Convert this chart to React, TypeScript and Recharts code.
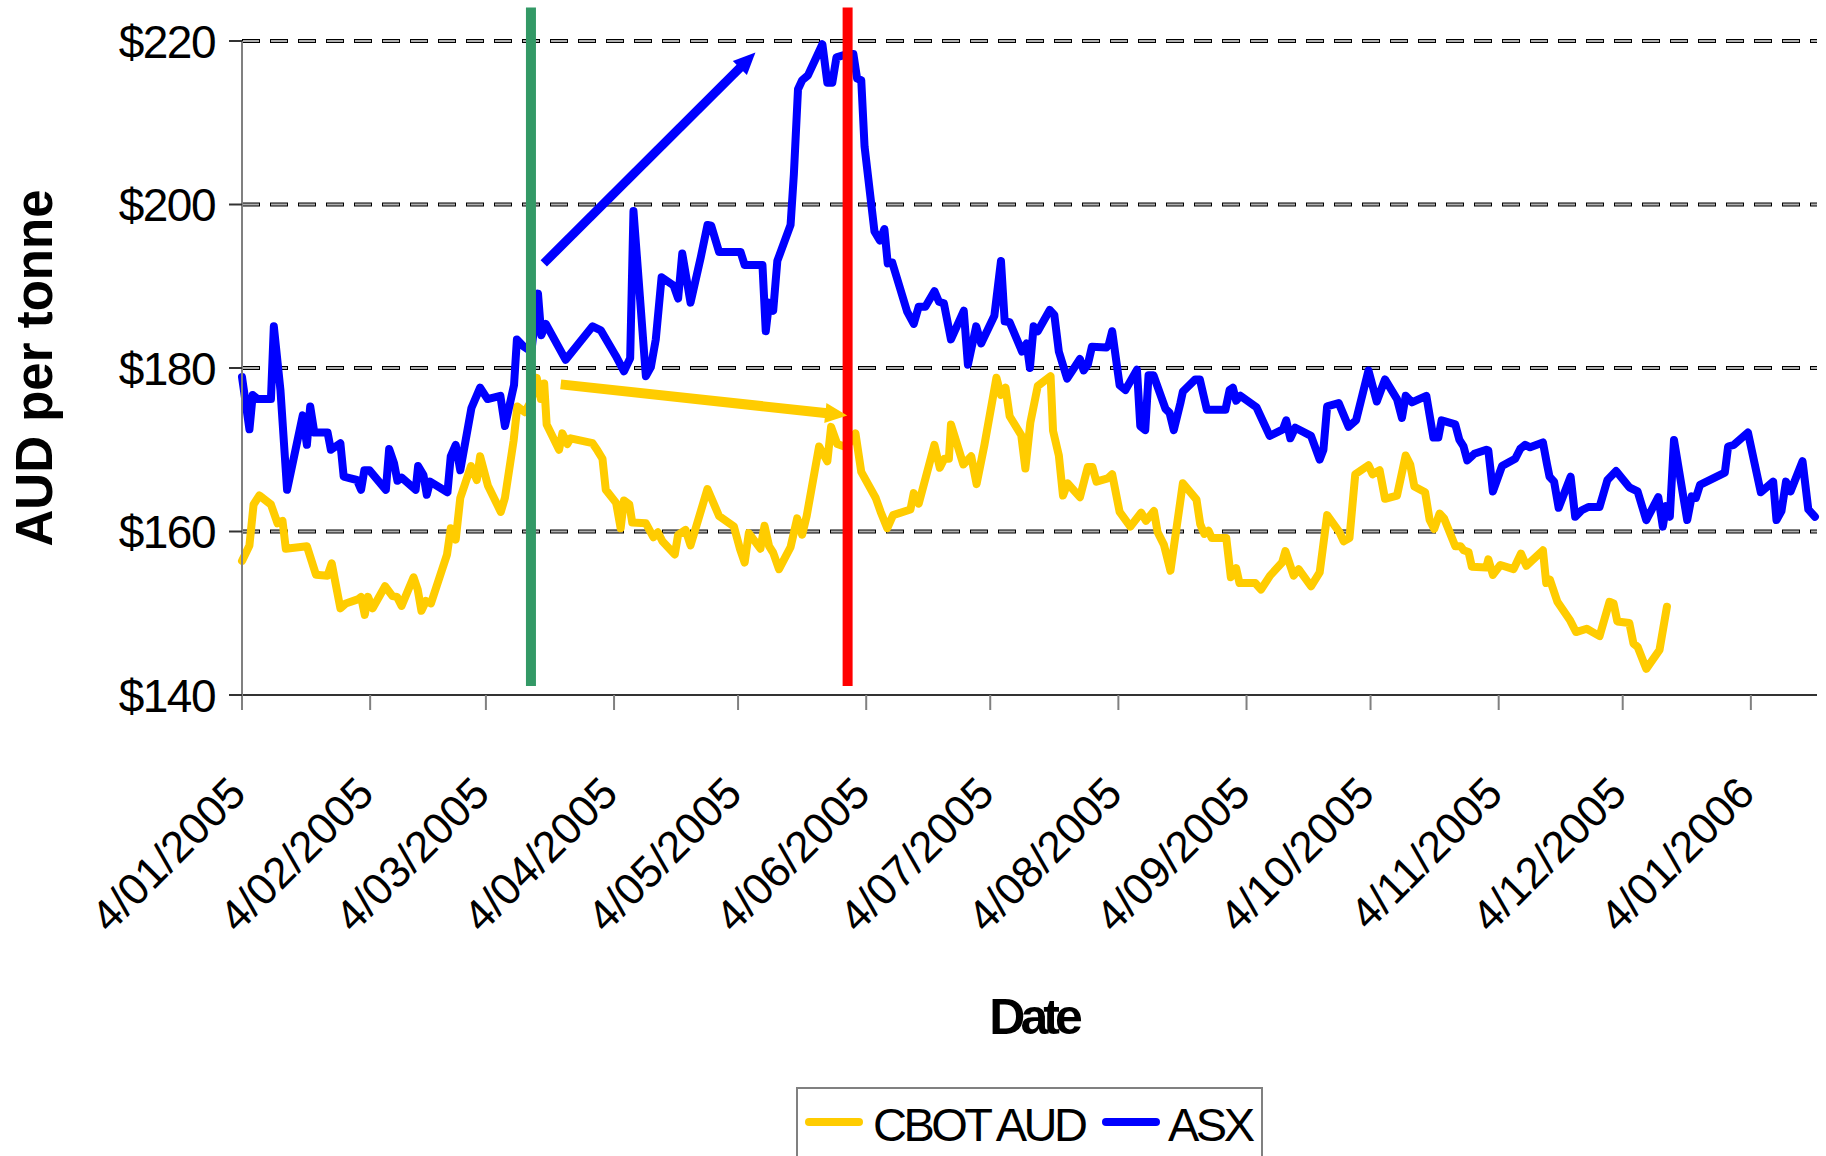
import {
  CartesianGrid,
  Legend,
  Line,
  LineChart,
  ReferenceLine,
  XAxis,
  YAxis,
} from "recharts";

const FONT = '"Liberation Sans", Arial, Helvetica, sans-serif';

const monthLabels = [
  "4/01/2005", "4/02/2005", "4/03/2005", "4/04/2005", "4/05/2005", "4/06/2005", "4/07/2005",
  "4/08/2005", "4/09/2005", "4/10/2005", "4/11/2005", "4/12/2005", "4/01/2006",
];
const priceTicks = [140, 160, 180, 200, 220];
const gridPrices = [160, 180, 200, 220];
const lastDay = 381;

const seriesNames = ["CBOT AUD", "ASX"];
const seriesColors = ["#FFCC00", "#0000FF"];

// day = days since 4/01/2005
const asxDays = [
  0, 1.8, 2.6, 3.8, 7, 7.7, 9.3, 10.9, 14.7, 15.7, 16.5, 17.5, 20.7, 21.5, 23.8, 24.6, 27.8, 28.8,
  29.6, 30.8, 34.8, 35.6, 36.8, 37.6, 38.6, 42, 42.6, 43.9, 44.7, 45.5, 49.7, 50.5, 51.7, 52.8,
  55.5, 57.6, 59.4, 62.5, 63.6, 65.8, 66.5, 68.2, 70, 71.6, 72.4, 73.5, 78.3, 84.8, 86.8, 90.4,
  92.4, 93.9, 94.7, 97.7, 98.9, 100.1, 101.5, 104.4, 105.5, 106.5, 108.5, 111, 112.6, 113.5,
  115.4, 120.6, 121.6, 125.9, 126.7, 127.5, 128.5, 129.5, 132.7, 133.5, 134.5, 135.5, 136.9,
  140.4, 141.6, 142.8, 143.8, 146.4, 147.9, 148.8, 149.8, 150.6, 153, 154.3, 155.4, 156.2,
  157.3, 160.9, 162.5, 163.7, 165.3, 167.5, 168.6, 169.8, 171.5, 174.6, 175.6, 177.6, 178.8,
  182, 183.6, 184.5, 185.7, 188.7, 189.8, 190.6, 191.5, 192.5, 195.4, 196.5, 197.6, 199.6,
  202.7, 203.6, 204.6, 205.6, 209.1, 209.7, 210.5, 212.3, 213.7, 216.5, 217.3, 218.5, 219.3,
  220.5, 223.4, 224.4, 225.4, 227, 227.6, 230.6, 231.7, 233.4, 237.9, 238.9, 239.7, 240.5,
  241.5, 245.4, 248.6, 251.8, 252.6, 253.6, 254.8, 258.6, 260.7, 261.6, 262.5, 265.3, 267.7,
  269.5, 272.5, 274.5, 276.5, 279.4, 280.6, 281.5, 283, 286.5, 288.2, 289.4, 290.2, 293.5,
  294.5, 295.5, 296.4, 298.1, 301, 301.5, 302.6, 304.8, 308, 309.2, 310.4, 311.6, 314.7, 315.7,
  316.3, 317.4, 318.5, 321.4, 322.5, 324.1, 325.7, 328.4, 330.3, 332.4, 335.6, 337.6, 339.7,
  342.6, 343.7, 344.5, 345.4, 346.4, 349.6, 350.7, 351.7, 352.7, 358.7, 359.5, 360.9, 364.3,
  367.4, 370.4, 371.2, 372.4, 373.5, 374.6, 377.5, 378.9, 380.5,
];
const asxPrices = [
  178.9, 172.5, 176.7, 176.2, 176.2, 185.1, 177.3, 165.1, 174.2, 170.6, 175.3, 172.1, 172.1, 170,
  170.8, 166.7, 166.3, 165.1, 167.5, 167.5, 165.1, 170.1, 168.3, 166.2, 166.6, 165.1, 168, 166.9,
  164.5, 166.1, 164.8, 169.2, 170.6, 167.5, 175.1, 177.6, 176.2, 176.6, 172.9, 177.9, 183.5,
  182.6, 182, 189.1, 184, 185.4, 181, 185.1, 184.6, 181.5, 179.6, 181.2, 199.2, 179, 180.1,
  183.5, 191.1, 190.1, 188.5, 194, 188, 193.6, 197.5, 197.4, 194.2, 194.2, 192.6, 192.6, 184.5,
  188, 187, 193.1, 197.5, 203.7, 214.1, 215.2, 215.8, 219.6, 214.9, 214.9, 218, 218.4, 218.4,
  215.4, 215.2, 207.1, 196.7, 195.6, 197, 192.8, 192.9, 186.9, 185.4, 187.5, 187.5, 189.4,
  188.1, 187.9, 183.5, 187, 180.4, 185.1, 183, 186.4, 193.1, 185.7, 185.6, 182, 183, 180, 185.1,
  184.5, 187.1, 186.5, 182, 178.7, 181.1, 179.7, 180.4, 182.6, 182.5, 182.9, 184.5, 177.9,
  177.3, 179.8, 172.9, 172.4, 179.1, 179.1, 175, 174.5, 172.4, 175.7, 177.1, 178.6, 178.6,
  174.9, 174.9, 177.3, 177.6, 176, 176.6, 175.2, 171.7, 172.5, 173.6, 171.4, 172.7, 171.7,
  168.8, 170, 175.3, 175.7, 172.8, 173.6, 179.7, 175.9, 178.6, 176.2, 173.9, 176.6, 175.8,
  176.6, 171.5, 171.5, 173.6, 173.1, 171.2, 170.4, 168.7, 169.5, 170, 169.9, 164.9, 168, 168.9,
  170.1, 170.6, 170.3, 170.9, 168.2, 166.7, 166.1, 162.9, 166.7, 161.8, 162.6, 163, 163, 166.3,
  167.4, 165.4, 164.9, 161.4, 164.2, 160.6, 163.1, 161.8, 171.2, 161.4, 164.3, 164.1, 165.7,
  167.2, 170.4, 170.6, 172.1, 164.8, 166.1, 161.4, 162.5, 166.1, 164.9, 168.6, 162.7, 161.8,
];

const cbotDays = [
  0, 1.8, 2.8, 4.2, 7, 8.6, 9.8, 10.6, 15.7, 17.9, 20.7, 21.7, 23.8, 25.1, 28, 28.8, 29.7, 30.5,
  31.6, 34.6, 36.4, 37.5, 38.6, 41.5, 42.5, 43.4, 44.5, 45.7, 49.6, 50.5, 51.7, 52.8, 55.4,
  56.8, 57.6, 59.5, 62.6, 63.6, 65.7, 66.6, 68.4, 70, 71.3, 72.3, 73.1, 73.7, 76.7, 77.5, 78.7,
  79.5, 84.8, 86, 87.2, 88, 90.5, 91.6, 92.4, 93.7, 94.4, 97.7, 99.5, 100.6, 101.7, 104.7,
  105.5, 107.3, 108.5, 112.6, 115.4, 119, 120.5, 121.6, 122.6, 125.4, 126.4, 127.5, 128.5,
  129.9, 132.7, 134.3, 135.5, 136.6, 139.6, 141.6, 142.5, 144, 146.2, 148.4, 149.8, 153.3,
  154.5, 156.1, 157.5, 161.7, 162.5, 163.7, 167.5, 168.8, 169.9, 171, 171.5, 174.5, 176.4,
  177.7, 179.6, 182.5, 183.6, 184.7, 185.7, 188.5, 189.5, 190.7, 192.5, 195.6, 196.2, 197.6,
  198.6, 199.7, 202.7, 204.6, 205.7, 206.7, 209.4, 210.5, 212.3, 214.9, 217.5, 218.7, 220.6,
  221.5, 223, 224.6, 227.6, 230.9, 231.8, 232.8, 233.8, 234.6, 238.1, 239.2, 240.5, 241.3,
  245.1, 246.5, 248.7, 251.6, 252.4, 254.4, 255.6, 258.6, 260.7, 262.5, 265.5, 266.5, 267.9,
  269.3, 272.5, 273.5, 275.2, 276.5, 279.4, 281.5, 282.6, 283.6, 286.2, 287.3, 288.4, 289.7,
  290.8, 293.5, 294.8, 295.5, 296.7, 297.5, 301, 301.5, 302.6, 304.4, 307.6, 309.4, 310.7,
  314.7, 315.5, 316.4, 318.2, 321.3, 322.7, 325.3, 328.4, 330.8, 331.8, 332.7, 335.6, 336.6,
  337.6, 339.7, 342.9, 344.7,
];
const cbotPrices = [
  156.4, 158.3, 163.3, 164.4, 163.3, 161, 161.3, 157.9, 158.2, 154.7, 154.6, 156.1, 150.6, 151.2,
  151.7, 152, 149.8, 152, 150.6, 153.3, 152.1, 152, 150.9, 154.4, 152.9, 150.3, 151.5, 151.2,
  157.2, 160.4, 159, 164.1, 168, 166.3, 169.2, 165.6, 162.4, 164.1, 171.1, 175.3, 174.6, 176,
  178.8, 176.2, 178.1, 173.1, 170, 172, 170.7, 171.4, 170.8, 169.9, 168.9, 165.1, 163.5, 160.4,
  163.8, 163.3, 161.1, 161, 159.3, 159.9, 158.8, 157.2, 159.6, 160.2, 158.3, 165.2, 161.9,
  160.6, 157.8, 156.2, 159.8, 157.9, 160.7, 158.2, 157.4, 155.4, 158.1, 161.6, 159.6, 161.9,
  170.4, 168.6, 172.8, 170.7, 170.3, 172, 167.3, 164.1, 162.4, 160.4, 162, 162.7, 164.7, 163.4,
  170.6, 167.8, 168.9, 168.9, 173.1, 168.2, 169.2, 165.8, 170.6, 178.8, 176.7, 177.6, 174.1,
  171.8, 167.7, 173.3, 177.8, 179, 172.3, 169.3, 164.4, 165.9, 164.2, 167.9, 167.9, 166.1,
  166.5, 167, 162.4, 160.6, 162.3, 161.3, 162.5, 159.9, 158.4, 155.2, 165.9, 163.9, 160.9,
  159.7, 160.1, 159.2, 159.2, 154.4, 155.5, 153.7, 153.7, 152.9, 154.6, 156.2, 157.6, 154.6,
  155.4, 153.3, 155, 162, 159.9, 158.8, 159.2, 167, 168.1, 167, 167.5, 164, 164.4, 169.3, 168.2,
  165.5, 164.8, 161.4, 160.3, 162.2, 161.6, 158.2, 158.2, 157.7, 157.5, 155.7, 155.6, 156.6,
  154.7, 155.9, 155.4, 157.3, 155.8, 157.7, 153.7, 154.1, 151.4, 149.1, 147.7, 148.1, 147.2,
  151.4, 151.2, 149, 148.8, 146.3, 145.9, 143.2, 145.5, 150.8,
];

// annotations: vertical event markers and trend arrows, in data units
const markerDays = [69.9, 146.5];
const markerColors = ["#339966", "#FF0000"];
const markerRange = [141.1, 224.1];
const asxArrow = [{ x: 73, y: 192.8 }, { x: 124.2, y: 218.6 }];
const cbotArrow = [{ x: 77.1, y: 178 }, { x: 146.4, y: 174.2 }];

const startUtc = Date.UTC(2005, 0, 4);
const labelToDay = (label: string) => {
  const [d, m, y] = label.split("/").map(Number);
  return Math.round((Date.UTC(y, m - 1, d) - startUtc) / 86400000);
};
const monthTicks = monthLabels.map(labelToDay);

const asxData = asxDays.map((day, i) => ({ day, price: asxPrices[i] }));
const cbotData = cbotDays.map((day, i) => ({ day, price: cbotPrices[i] }));

function DateTick({ x, y, payload }: any) {
  const label = monthLabels[monthTicks.indexOf(payload.value)];
  const bx = x + 6;
  const by = y + 84;
  return (
    <text
      x={bx}
      y={by}
      transform={`rotate(-45, ${bx}, ${by})`}
      textAnchor="end"
      fontFamily={FONT}
      fontSize={44}
      fill="#000"
    >
      {label}
    </text>
  );
}

function PriceTick({ x, y, payload }: any) {
  return (
    <text
      x={x + 2}
      y={y}
      dy={16.5}
      textAnchor="end"
      fontFamily={FONT}
      fontSize={46}
      letterSpacing={-1.5}
      fill="#000"
    >
      ${payload.value}
    </text>
  );
}

function DateTitle({ viewBox }: any) {
  const cx = viewBox.x + viewBox.width / 2 + 4;
  return (
    <text x={cx} y={viewBox.y + 339} textAnchor="middle" fontFamily={FONT} fontSize={50} fontWeight="bold" letterSpacing={-5} fill="#000">
      Date
    </text>
  );
}

function PriceTitle({ viewBox }: any) {
  const bx = viewBox.x + 52;
  const by = viewBox.y + viewBox.height / 2;
  return (
    <text x={bx} y={by} transform={`rotate(-90, ${bx}, ${by})`} textAnchor="middle" fontFamily={FONT} fontSize={51} fontWeight="bold" fill="#000">
      AUD per tonne
    </text>
  );
}

function Arrow({ x1, y1, x2, y2, stroke, strokeWidth }: any) {
  const len = Math.hypot(x2 - x1, y2 - y1);
  const ux = (x2 - x1) / len;
  const uy = (y2 - y1) / len;
  const head = 22;
  const half = 10;
  const bx = x2 - ux * head;
  const by = y2 - uy * head;
  return (
    <g>
      <line x1={x1} y1={y1} x2={bx + ux * 2} y2={by + uy * 2} stroke={stroke} strokeWidth={strokeWidth} />
      <polygon
        points={`${x2},${y2} ${bx - uy * half},${by + ux * half} ${bx + uy * half},${by - ux * half}`}
        fill={stroke}
      />
    </g>
  );
}

// legend drawn in reference order (CBOT AUD first)
function LegendBox() {
  const swatchLeft = [7, 304];
  const textLeft = [75, 370];
  return (
    <div
      style={{
        position: "relative",
        boxSizing: "border-box",
        width: 467,
        height: 110,
        border: "2px solid #808080",
        background: "#fff",
        fontFamily: FONT,
        fontSize: 47,
        lineHeight: "48px",
        letterSpacing: -3.5,
        color: "#000",
        whiteSpace: "nowrap",
      }}
    >
      {seriesNames.map((name, i) => (
        <div key={name}>
          <div
            style={{
              position: "absolute",
              left: swatchLeft[i],
              top: 29,
              width: 58,
              height: 8,
              borderRadius: 4,
              background: seriesColors[i],
            }}
          />
          <div style={{ position: "absolute", left: textLeft[i], top: 12 }}>{name}</div>
        </div>
      ))}
    </div>
  );
}

export default function App() {
  return (
    <div style={{ position: "fixed", left: 0, top: 0, width: 1826, height: 1156, overflow: "hidden", background: "#fff" }}>
      <LineChart width={1826} height={1156} margin={{ top: 41, right: 9, bottom: 0, left: 0 }}>
        <CartesianGrid
          vertical={false}
          horizontalValues={gridPrices}
          stroke="#000"
          strokeWidth={4}
          strokeDasharray="18 10"
        />
        <CartesianGrid
          vertical={false}
          horizontalValues={gridPrices}
          stroke="#b0b0b0"
          strokeWidth={2}
          strokeDasharray="16 12"
          strokeDashoffset={-1}
        />
        <XAxis
          type="number"
          dataKey="day"
          domain={[0, lastDay]}
          ticks={monthTicks}
          interval={0}
          height={461}
          tickSize={15}
          tickMargin={2}
          tick={<DateTick />}
          axisLine={{ stroke: "#333", strokeWidth: 2 }}
          tickLine={{ stroke: "#808080", strokeWidth: 2 }}
          label={DateTitle}
        />
        <YAxis
          type="number"
          domain={[140, 220]}
          ticks={priceTicks}
          interval={0}
          width={242}
          tickSize={13}
          tickMargin={16}
          tick={<PriceTick />}
          axisLine={{ stroke: "#808080", strokeWidth: 2 }}
          tickLine={{ stroke: "#333", strokeWidth: 2 }}
          label={PriceTitle}
        />
        <Line
          data={cbotData}
          dataKey="price"
          name={seriesNames[0]}
          type="linear"
          stroke={seriesColors[0]}
          strokeWidth={8}
          strokeLinejoin="round"
          strokeLinecap="round"
          dot={false}
          activeDot={false}
          isAnimationActive={false}
        />
        <Line
          data={asxData}
          dataKey="price"
          name={seriesNames[1]}
          type="linear"
          stroke={seriesColors[1]}
          strokeWidth={8}
          strokeLinejoin="round"
          strokeLinecap="round"
          dot={false}
          activeDot={false}
          isAnimationActive={false}
        />
        {markerDays.map((day, i) => (
          <ReferenceLine
            key={day}
            segment={[{ x: day, y: markerRange[0] }, { x: day, y: markerRange[1] }]}
            ifOverflow="visible"
            stroke={markerColors[i]}
            strokeWidth={10}
            zIndex={1000}
          />
        ))}
        <ReferenceLine
          segment={asxArrow}
          ifOverflow="visible"
          stroke="#0000FF"
          strokeWidth={9}
          zIndex={1000}
          shape={(p: any) => <Arrow {...p} />}
        />
        <ReferenceLine
          segment={cbotArrow}
          ifOverflow="visible"
          stroke="#FFCC00"
          strokeWidth={10}
          zIndex={1000}
          shape={(p: any) => <Arrow {...p} />}
        />
        <Legend
          layout="horizontal"
          verticalAlign="middle"
          align="center"
          wrapperStyle={{ left: 796, top: 1087, width: 467, height: 110 }}
          content={LegendBox}
        />
      </LineChart>
    </div>
  );
}
